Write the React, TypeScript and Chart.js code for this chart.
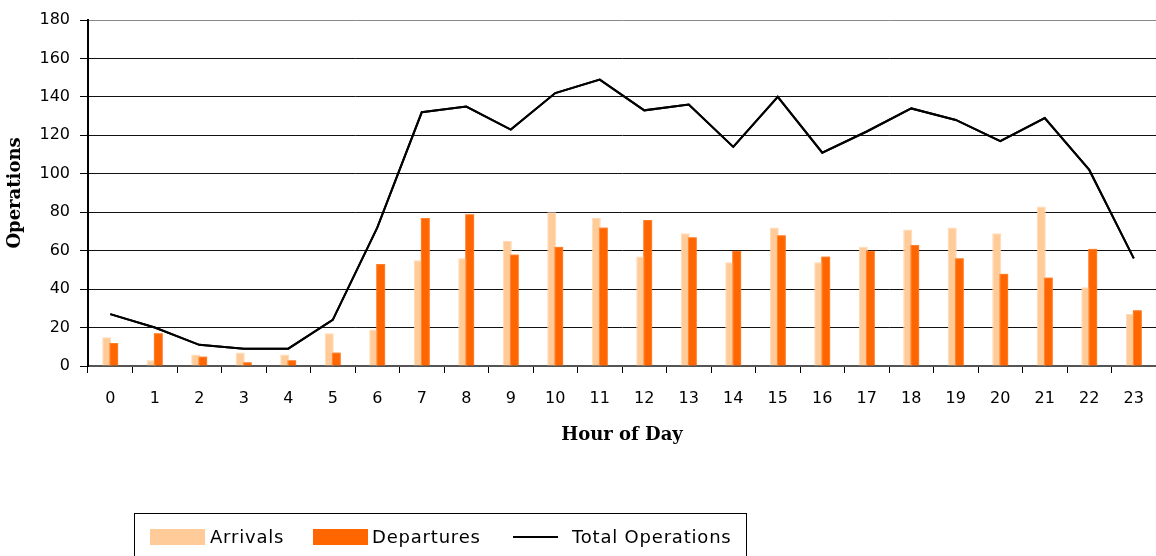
import React, { useEffect, useRef } from "react";
import { Chart, registerables } from "chart.js";

Chart.register(...registerables);

const hours: string[] = ["0","1","2","3","4","5","6","7","8","9","10","11","12","13","14","15","16","17","18","19","20","21","22","23"];
const arrivals: number[] = [15, 3, 6, 7, 6, 17, 19, 55, 56, 65, 80, 77, 57, 69, 54, 72, 54, 62, 71, 72, 69, 83, 41, 27];
const departures: number[] = [12, 17, 5, 2, 3, 7, 53, 77, 79, 58, 62, 72, 76, 67, 60, 68, 57, 60, 63, 56, 48, 46, 61, 29];
const totalOps: number[] = [27, 20, 11, 9, 9, 24, 72, 132, 135, 123, 142, 149, 133, 136, 114, 140, 111, 122, 134, 128, 117, 129, 102, 56];

const FONT = "'DejaVu Sans', sans-serif";
const TITLE_FONT = "'DejaVu Serif', serif";

// Redraw departures and the line on top so the dark bars overlap the light ones
const redrawOnTop = {
  id: "redrawOnTop",
  afterDatasetsDraw(chart: any) {
    const ctx = chart.ctx;
    const area = chart.chartArea;
    ctx.save();
    ctx.beginPath();
    ctx.rect(area.left, area.top - 2, area.right - area.left, area.bottom - area.top + 4);
    ctx.clip();
    [1, 2].forEach((i) => {
      const meta = chart.getDatasetMeta(i);
      if (meta && meta.visible !== false) meta.controller.draw();
    });
    ctx.restore();
  },
};

export default function App() {
  const ref = useRef<HTMLCanvasElement | null>(null);

  useEffect(() => {
    if (!ref.current) return;
    const chart = new Chart(ref.current, {
      type: "bar",
      data: {
        labels: hours,
        datasets: [
          {
            type: "bar",
            label: "Arrivals",
            data: arrivals,
            backgroundColor: "#FFCC99",
            borderColor: "#FFD9B3",
            borderWidth: 1,
            categoryPercentage: 0.315,
            barPercentage: 1.29,
          },
          {
            type: "bar",
            label: "Departures",
            data: departures,
            backgroundColor: "#FF6600",
            borderColor: "#FF7F2A",
            borderWidth: 1,
            categoryPercentage: 0.315,
            barPercentage: 1.29,
          },
          {
            type: "line",
            label: "Total Operations",
            data: totalOps,
            borderColor: "#000000",
            borderWidth: 2,
            pointRadius: 0,
            tension: 0,
            fill: false,
          } as any,
        ],
      },
      plugins: [redrawOnTop],
      options: {
        responsive: false,
        animation: false,
        layout: { padding: { top: 20, right: 2, bottom: 110, left: 0 } },
        plugins: {
          legend: { display: false },
          tooltip: { enabled: false },
        },
        scales: {
          x: {
            grid: {
              offset: true,
              drawOnChartArea: false,
              drawTicks: true,
              tickLength: 7,
              color: "#000",
            },
            border: { color: "#555", width: 2 },
            ticks: {
              color: "#000",
              font: { family: FONT, size: 16 },
              padding: 16,
              maxRotation: 0,
            },
            title: {
              display: true,
              text: "Hour of Day",
              color: "#000",
              font: { family: TITLE_FONT, size: 18, weight: "bold" },
              padding: { top: 0, bottom: 0 },
            },
            afterFit: (s: any) => {
              s.height = 80;
            },
          },
          y: {
            min: 0,
            max: 180,
            ticks: {
              stepSize: 20,
              color: "#000",
              font: { family: FONT, size: 16 },
              padding: 10,
            },
            grid: {
              color: (ctx: any) => (ctx.tick && ctx.tick.value === 180 ? "#888" : "#111"),
              lineWidth: 1,
              drawTicks: true,
              tickLength: 8,
              tickColor: "#000",
            },
            border: { color: "#000", width: 2 },
            title: {
              display: true,
              text: "Operations",
              color: "#000",
              font: { family: TITLE_FONT, size: 18, weight: "bold" },
              padding: { top: 5, bottom: 0 },
            },
            afterFit: (s: any) => {
              s.width = 88;
            },
          },
        },
      },
    });
    return () => chart.destroy();
  }, []);

  const legendText: React.CSSProperties = {
    position: "absolute",
    top: 526,
    fontFamily: FONT,
    fontSize: 18,
    letterSpacing: "0.8px",
    lineHeight: "22px",
    color: "#000",
    whiteSpace: "nowrap",
  };

  return (
    <div
      style={{
        position: "fixed",
        left: 0,
        top: 0,
        width: 1156,
        height: 556,
        overflow: "hidden",
        background: "#fff",
      }}
    >
      <canvas ref={ref} width={1160} height={556} style={{ display: "block", width: 1160, height: 556 }} />
      <div
        style={{
          position: "absolute",
          left: 134,
          top: 513,
          width: 613,
          height: 60,
          border: "1px solid #000",
          boxSizing: "border-box",
        }}
      />
      <div style={{ position: "absolute", left: 150, top: 529, width: 55, height: 16, background: "#FFCC99" }} />
      <div style={{ ...legendText, left: 210 }}>Arrivals</div>
      <div style={{ position: "absolute", left: 313, top: 529, width: 55, height: 16, background: "#FF6600" }} />
      <div style={{ ...legendText, left: 372 }}>Departures</div>
      <div style={{ position: "absolute", left: 513, top: 536, width: 45, height: 2, background: "#000" }} />
      <div style={{ ...legendText, left: 572 }}>Total Operations</div>
    </div>
  );
}
